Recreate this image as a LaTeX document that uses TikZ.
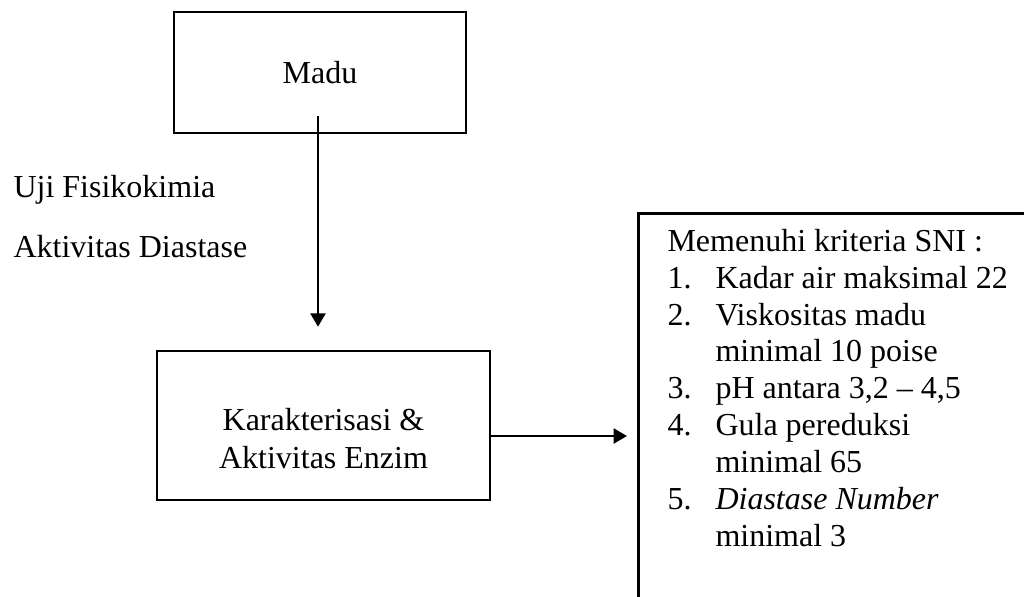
\documentclass[tikz,border=0pt]{standalone}
\usepackage{fontspec}
\setmainfont{Liberation Serif}
\usetikzlibrary{arrows.meta}
\begin{document}
\begin{tikzpicture}[x=0.375pt,y=-0.375pt,
  every node/.style={font=\fontsize{12pt}{14pt}\selectfont},
  box/.style={draw,line width=1pt,rectangle,inner sep=0pt},
  lbl/.style={anchor=base west,inner sep=0pt},
  ctr/.style={anchor=base,inner sep=0pt},
  arr/.style={line width=0.9pt,-{Triangle[width=5.6pt,length=5pt]}}]
\useasboundingbox (0,0) rectangle (1024,596);
\clip (0,0) rectangle (1024,596);
% boxes
\node[box,minimum width=109.5pt,minimum height=45.375pt] (madu) at (320,72.5) {Madu};
\node[box,minimum width=124.875pt,minimum height=55.875pt] (karak) at (323.5,425.5) {};
\node[ctr] (k1) at (323.5,430) {Karakterisasi \&};
\node[ctr] (k2) at (323.5,468) {Aktivitas Enzim};
\node[box,anchor=north west,minimum width=151.5pt,minimum height=150pt] (rbox) at (637,212) {};
% left labels
\node[lbl] (uji) at (13,197) {Uji Fisikokimia};
\node[lbl] (akt) at (13,257) {Aktivitas Diastase};
% criteria text
\node[lbl] (c0) at (667,251) {Memenuhi kriteria SNI :};
\node[lbl] (c1) at (667,288) {\makebox[18pt][l]{1.}Kadar air maksimal 22};
\node[lbl] (c2) at (667,325) {\makebox[18pt][l]{2.}Viskositas madu};
\node[lbl] (c3) at (715,361.5) {minimal 10 poise};
\node[lbl] (c4) at (667,398) {\makebox[18pt][l]{3.}pH antara 3,2 – 4,5};
\node[lbl] (c5) at (667,435) {\makebox[18pt][l]{4.}Gula pereduksi};
\node[lbl] (c6) at (715,472) {minimal 65};
\node[lbl] (c7) at (667,509) {\makebox[18pt][l]{5.}\textit{Diastase Number}};
\node[lbl] (c8) at (715,546) {minimal 3};
% connectors
\draw[arr,shorten >=8.6pt] ([xshift=-0.75pt,yshift=6.75pt]madu.south) -- ([xshift=-0.75pt]madu.south |- karak.north);
\draw[arr,shorten >=3.75pt] ([yshift=-3.94pt]karak.east) -- ([yshift=-3.94pt]karak.east -| rbox.west);
\end{tikzpicture}
\end{document}
